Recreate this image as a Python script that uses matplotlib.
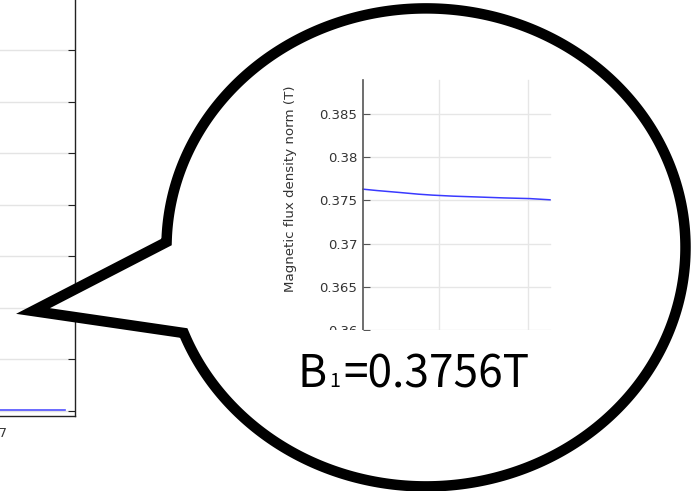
import matplotlib
matplotlib.use('Agg')
import matplotlib.pyplot as plt
import numpy as np
from matplotlib.path import Path
from matplotlib.patches import PathPatch
from matplotlib.transforms import Bbox, TransformedBbox

W, H, DPI = 692, 491, 100

# ---------------- data ----------------
main_x = [0.0, 7.86]
main_b = [0.37508, 0.37508]
main_yticks = [0.375, 0.38, 0.385, 0.39, 0.395, 0.40, 0.405, 0.41]
main_xticks = [7]
main_xticklabels = ['7']

inset_x = [0.153, 0.310, 0.571, 0.776, 0.933, 1.168, 1.429, 1.728, 2.026, 2.25]
inset_b = [0.37631, 0.37615, 0.37592, 0.37573, 0.37562, 0.37550, 0.37541,
           0.37530, 0.37522, 0.37508]
inset_yticks = [0.36, 0.365, 0.37, 0.375, 0.38, 0.385]
inset_yticklabels = ['0.36', '0.365', '0.37', '0.375', '0.38', '0.385']
inset_xticks = [1.0, 2.0]
inset_ylabel = 'Magnetic flux density norm (T)'

callout_symbol = 'B'
callout_sub = '1'
callout_value = '=0.3756T'


def px_rect(left, top, right, bottom):
    return [left / W, 1 - bottom / H, (right - left) / W, (bottom - top) / H]


fig = plt.figure(figsize=(W / DPI, H / DPI), dpi=DPI)
fig.patch.set_facecolor('white')

# ---------------- background (main) chart ----------------
ax = fig.add_axes(px_rect(-497, -40, 75, 416))
ax.plot(main_x, main_b, color='#5050ff', lw=1.2)
ax.set_xlim(0, 8)
ax.set_ylim(0.37449, 0.41873)
ax.set_yticks(main_yticks)
ax.set_xticks(main_xticks)
ax.set_xticklabels(main_xticklabels)
ax.grid(axis='y', color='#e4e4e4', lw=1)
ax.set_axisbelow(True)
for s in ax.spines.values():
    s.set_color('#222222')
    s.set_linewidth(1.0)
ax.tick_params(axis='y', left=True, right=True, direction='in', length=5,
               color='#222222', labelleft=False)
ax.tick_params(axis='x', length=0, labelsize=9, labelcolor='#333333', pad=8)

# ---------------- speech bubble ----------------
bax = fig.add_axes([0, 0, 1, 1], zorder=1)
bax.set_xlim(0, W)
bax.set_ylim(H, 0)
bax.axis('off')
bax.patch.set_visible(False)

cx, cy, a, b = 426.0, 247.4, 259.5, 239.0
p1y, p2y = 242.0, 333.0
t1 = np.pi + np.arcsin((cy - p1y) / b)
t2 = 2 * np.pi + np.pi - np.arcsin((p2y - cy) / b)
tt = np.linspace(t1, t2, 400)
ex = cx + a * np.cos(tt)
ey = cy + b * np.sin(tt)
tip = (33.0, 311.0)
vx = np.concatenate([ex, [tip[0], ex[0]]])
vy = np.concatenate([ey, [tip[1], ey[0]]])
verts = np.column_stack([vx, vy])
codes = [Path.MOVETO] + [Path.LINETO] * (len(verts) - 2) + [Path.CLOSEPOLY]
bubble = PathPatch(Path(verts, codes), facecolor='white', edgecolor='black',
                   lw=10.5 * 72 / DPI, joinstyle='miter')
bax.add_patch(bubble)

# ---------------- inset chart ----------------
ia = fig.add_axes(px_rect(363, 80, 550, 337), zorder=2)
ia.patch.set_visible(False)
ia.plot(inset_x, inset_b, color='#3a3aff', lw=1.1)
ia.set_xlim(0.153, 2.25)
ia.set_ylim(0.35922, 0.38893)
ia.set_yticks(inset_yticks)
ia.set_yticklabels(inset_yticklabels)
ia.set_xticks(inset_xticks)
ia.grid(True, color='#e6e6e6', lw=1)
ia.set_axisbelow(True)
for k in ('top', 'right', 'bottom'):
    ia.spines[k].set_visible(False)
ia.spines['left'].set_color('#555555')
ia.spines['left'].set_linewidth(1.2)
ia.tick_params(axis='y', direction='in', length=5, color='#555555',
               labelsize=9.5, labelcolor='#333333', pad=4)
ia.tick_params(axis='x', length=0, labelbottom=False)
ia.set_ylabel(inset_ylabel, fontsize=9.6, color='#333333')
ia.yaxis.set_label_coords((297.5 - 363) / 187, (337 - 188.5) / 257)

clip = TransformedBbox(Bbox.from_extents(250 / W, 1 - 329.5 / H, 560 / W, 1 - 75 / H),
                       fig.transFigure)
ia.spines['left'].set_clip_box(clip)
for ln in ia.get_lines():
    ln.set_clip_box(clip)
for tk in ia.yaxis.get_major_ticks() + ia.xaxis.get_major_ticks():
    for art in (tk.tick1line, tk.gridline, tk.label1):
        art.set_clip_on(True)
        art.set_clip_box(clip)

# ---------------- callout value text ----------------
fam = ['Noto Sans CJK SC', 'DejaVu Sans']
r = fig.canvas.get_renderer()
base = 1 - 387 / H


def place(size):
    x = 297.0
    arts = []
    for s, fs, gap in [(callout_symbol, size, 3), (callout_sub, size * 0.44, 3),
                       (callout_value, size, 0)]:
        t = fig.text(x / W, base, s, fontsize=fs, family=fam, va='baseline',
                     ha='left', color='black', zorder=5)
        arts.append(t)
        x += t.get_window_extent(r).width + gap
    return arts, x - 297.0


arts, width = place(32.0)
size = min(32.8, 32.0 * 232.0 / width)
for t in arts:
    t.remove()
place(size)

fig.savefig('out.png', dpi=DPI)
